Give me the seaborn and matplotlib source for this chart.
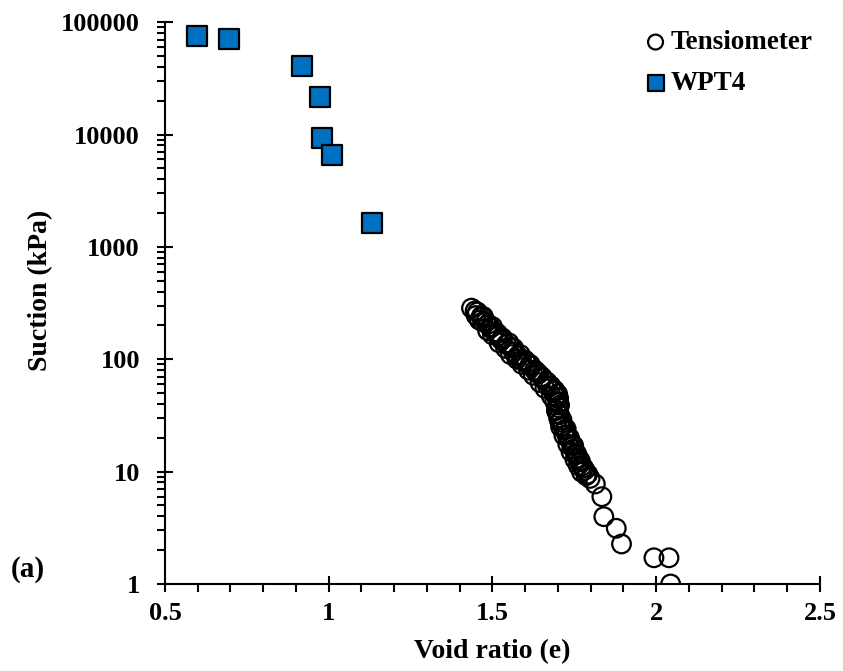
import matplotlib
matplotlib.use("Agg")
import matplotlib.pyplot as plt
import matplotlib.ticker as mticker
import numpy as np
import pandas as pd
import seaborn as sns

# WPT4 (dew-point potentiometer) measurements
wpt4_void_ratio = [0.597, 0.694, 0.919, 0.973, 0.980, 1.009, 1.132]
wpt4_suction = [75000, 70200, 40400, 21650, 9350, 6560, 1620]

# Tensiometer measurements
tens_void_ratio = [1.436, 1.454, 1.466, 1.460, 1.479, 1.494, 1.506, 1.518, 1.528,
                   1.543, 1.558, 1.564, 1.577, 1.589, 1.604, 1.617, 1.629, 1.641,
                   1.653, 1.666, 1.678, 1.690, 1.699, 1.702, 1.702, 1.702, 1.699,
                   1.702, 1.706, 1.715, 1.721, 1.727, 1.736, 1.742, 1.748, 1.755,
                   1.761, 1.767, 1.773, 1.782, 1.791, 1.798, 1.814, 1.834, 1.840,
                   1.878, 1.894, 1.993, 2.039, 2.044,
                   1.447, 1.472, 1.450, 1.487, 1.470, 1.500, 1.485, 1.515, 1.500,
                   1.530, 1.520, 1.550, 1.540, 1.565, 1.555, 1.585, 1.575, 1.600,
                   1.590, 1.615, 1.610, 1.635, 1.625, 1.650, 1.645, 1.668, 1.660,
                   1.685, 1.680, 1.695, 1.690, 1.705, 1.695, 1.705, 1.712, 1.708,
                   1.725, 1.718, 1.735, 1.730, 1.748, 1.740, 1.758, 1.752, 1.768,
                   1.762, 1.778, 1.772, 1.786]
tens_suction = [285, 263, 242, 223, 214, 190, 175, 161, 148,
                136, 128, 116, 107, 98, 92, 87, 80, 74,
                68, 63, 58, 53, 49, 45, 41, 37, 33,
                30, 27.6, 25.5, 23.4, 21.2, 19.1, 17.3, 15.9, 14.6,
                13.2, 12.2, 11.2, 10.3, 9.5, 8.7, 7.76, 5.98, 3.97,
                3.13, 2.27, 1.71, 1.71, 1.0,
                270, 240, 245, 205, 215, 195, 180, 170, 165,
                155, 140, 140, 125, 125, 110, 110, 100, 98,
                90, 90, 80, 77, 72, 70, 62, 58, 55,
                52, 47, 46, 42, 39, 35, 32, 29, 25,
                24, 21, 20, 17.5, 17, 15, 14.2, 12.8, 12.5,
                11.3, 10.8, 9.9, 9.2]

x_ticks = [0.5, 1, 1.5, 2, 2.5]
x_tick_labels = ["0.5", "1", "1.5", "2", "2.5"]
y_ticks = [1, 10, 100, 1000, 10000, 100000]
y_tick_labels = ["1", "10", "100", "1000", "10000", "100000"]

sns.set_style("ticks")
plt.rcParams["font.family"] = ["Liberation Serif", "DejaVu Serif"]
plt.rcParams["font.weight"] = "bold"
plt.rcParams["text.color"] = "black"
plt.rcParams["axes.labelcolor"] = "black"

fig = plt.figure(figsize=(8.43, 6.71), dpi=100)
ax = fig.add_axes([0.1957, 0.1297, 0.777, 0.8373])

tens = pd.DataFrame({"e": tens_void_ratio, "s": tens_suction})
wpt = pd.DataFrame({"e": wpt4_void_ratio, "s": wpt4_suction})

sns.scatterplot(data=tens, x="e", y="s", marker="o", s=180, facecolor="none",
                edgecolor="black", linewidth=1.6, ax=ax, label="Tensiometer",
                zorder=3)
sns.scatterplot(data=wpt, x="e", y="s", marker="s", s=215, color="#0070C0",
                edgecolor="black", linewidth=1.6, ax=ax, label="WPT4", zorder=3)

ax.set_yscale("log")
ax.set_xlim(0.5, 2.5)
ax.set_ylim(1, 100000)

ax.set_xticks(x_ticks)
ax.set_xticklabels(x_tick_labels)
ax.xaxis.set_minor_locator(mticker.MultipleLocator(0.1))
ax.set_yticks(y_ticks)
ax.set_yticklabels(y_tick_labels)
ax.yaxis.set_minor_locator(mticker.LogLocator(base=10, subs=np.arange(2, 10)))
ax.yaxis.set_minor_formatter(mticker.NullFormatter())

ax.tick_params(axis="both", which="major", direction="inout", length=12,
               width=1.5, labelsize=19, colors="black")
ax.tick_params(axis="y", which="major", pad=12)
ax.tick_params(axis="x", which="major", pad=7)
ax.tick_params(axis="both", which="minor", direction="out", length=6,
               width=1.5, colors="black")
for lab in ax.get_xticklabels() + ax.get_yticklabels():
    lab.set_fontweight("bold")

for side in ["top", "right"]:
    ax.spines[side].set_visible(False)
for side in ["left", "bottom"]:
    ax.spines[side].set_linewidth(1.5)
    ax.spines[side].set_color("black")

ax.set_xlabel("Void ratio (e)", fontsize=20, fontweight="bold", labelpad=10)
ax.set_ylabel("Suction (kPa)", fontsize=20, fontweight="bold")
ax.yaxis.set_label_coords(-0.17, 0.523)

leg = ax.legend(loc="upper right", bbox_to_anchor=(1.005, 1.005), frameon=False,
                markerscale=0.8, handletextpad=0.1, handlelength=0.9,
                labelspacing=0.6, prop={"weight": "bold", "size": 19.5},
                borderaxespad=0.0)

fig.text(0.013, 0.14, "(a)", fontsize=21, fontweight="bold")

fig.savefig("out.png", dpi=100)
